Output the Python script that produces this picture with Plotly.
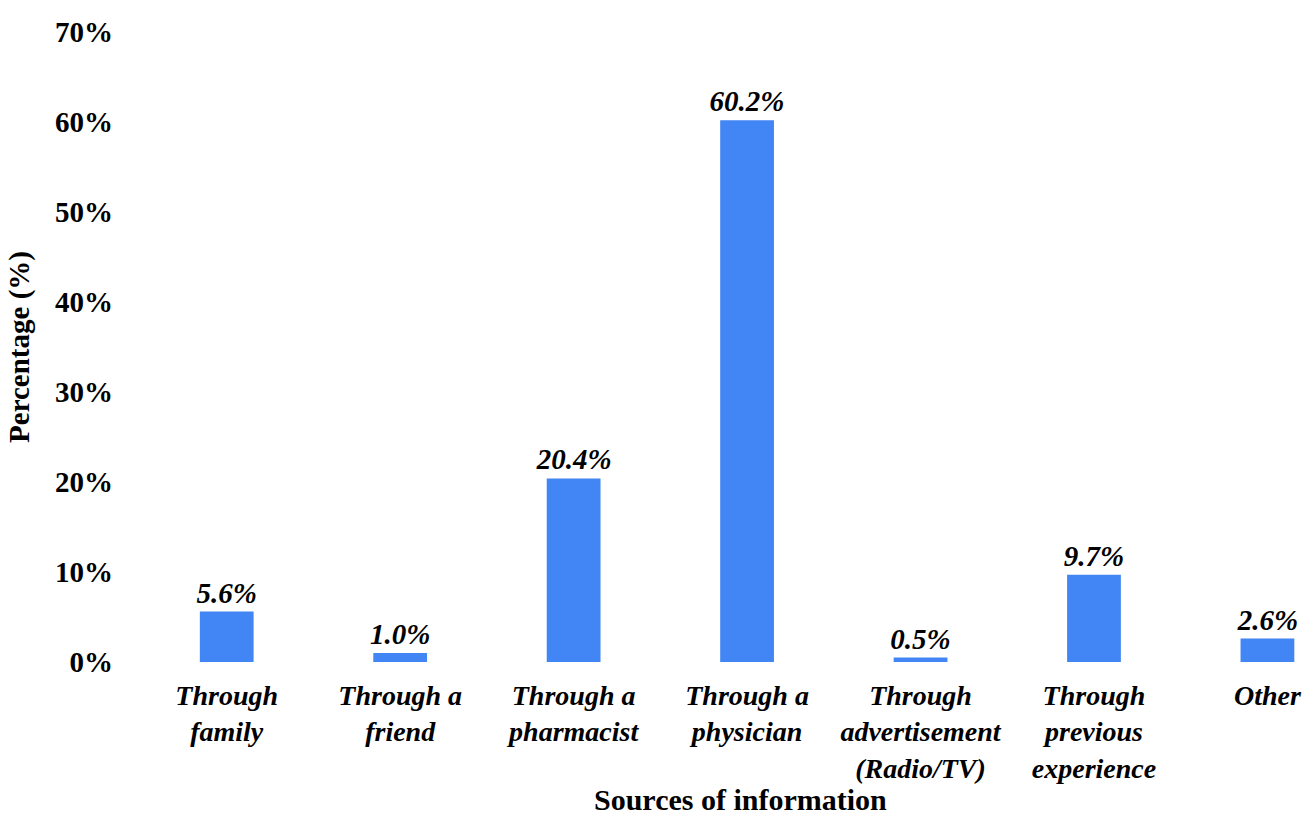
import plotly.graph_objects as go

categories = [
    "Through<br>family",
    "Through a<br>friend",
    "Through a<br>pharmacist",
    "Through a<br>physician",
    "Through<br>advertisement<br>(Radio/TV)",
    "Through<br>previous<br>experience",
    "Other",
]
percentages = [5.6, 1.0, 20.4, 60.2, 0.5, 9.7, 2.6]
tick_values = [0, 10, 20, 30, 40, 50, 60, 70]
tick_labels = ["0%", "10%", "20%", "30%", "40%", "50%", "60%", "70%"]

SERIF = "Liberation Serif"
BAR_BLUE = "#4285f4"

fig = go.Figure(
    go.Bar(
        x=list(range(len(categories))),
        y=percentages,
        marker=dict(color=BAR_BLUE, line=dict(width=0)),
        text=[f"{v:.1f}%" for v in percentages],
        textposition="outside",
        constraintext="none",
        textfont=dict(family=SERIF, size=29, color="black", weight="bold", style="italic"),
        cliponaxis=False,
        width=0.31,
    )
)

fig.update_layout(
    width=1316,
    height=815,
    margin=dict(l=140, r=0, t=32, b=153),
    paper_bgcolor="white",
    plot_bgcolor="white",
    showlegend=False,
    xaxis=dict(
        tickmode="array",
        tickvals=list(range(len(categories))),
        ticktext=categories,
        range=[-0.5, 6.28],
        showgrid=False,
        zeroline=False,
        showline=False,
        ticks="",
        tickangle=0,
        ticklabelstandoff=14,
        tickfont=dict(family=SERIF, size=28, color="black", weight="bold", style="italic"),
    ),
    yaxis=dict(
        range=[0, 70],
        tickmode="array",
        tickvals=tick_values,
        ticktext=tick_labels,
        showgrid=False,
        zeroline=False,
        showline=False,
        ticks="",
        ticklabelstandoff=26,
        tickfont=dict(family=SERIF, size=29, color="black", weight="bold"),
        title=dict(
            text="Percentage (%)",
            font=dict(family=SERIF, size=29, color="black", weight="bold"),
            standoff=16,
        ),
    ),
)

# x-axis title, placed slightly right of the plot-area centre
fig.add_annotation(
    text="Sources of information",
    xref="paper",
    yref="paper",
    x=0.511,
    y=-0.218,
    xanchor="center",
    yanchor="middle",
    showarrow=False,
    font=dict(family=SERIF, size=30, color="black", weight="bold"),
)

fig.write_html("out.html")
